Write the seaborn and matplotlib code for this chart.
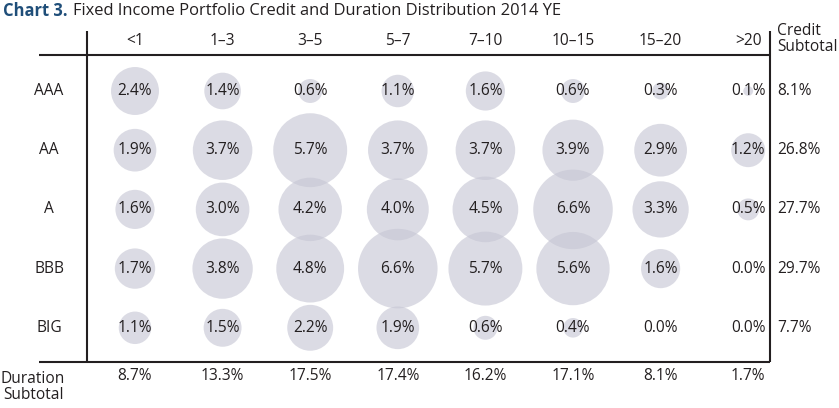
import pandas as pd
import matplotlib.pyplot as plt
import seaborn as sns

# data
ratings = ['AAA', 'AA', 'A', 'BBB', 'BIG']
durations = ['<1', '1–3', '3–5', '5–7', '7–10', '10–15', '15–20', '>20']

aaa = [2.4, 1.4, 0.6, 1.1, 1.6, 0.6, 0.3, 0.1]
aa = [1.9, 3.7, 5.7, 3.7, 3.7, 3.9, 2.9, 1.2]
a = [1.6, 3.0, 4.2, 4.0, 4.5, 6.6, 3.3, 0.5]
bbb = [1.7, 3.8, 4.8, 6.6, 5.7, 5.6, 1.6, 0.0]
big = [1.1, 1.5, 2.2, 1.9, 0.6, 0.4, 0.0, 0.0]

credit_subtotal = [8.1, 26.8, 27.7, 29.7, 7.7]
duration_subtotal = [8.7, 13.3, 17.5, 17.4, 16.2, 17.1, 8.1, 1.7]

# long table for seaborn
records = []
for j, (r, vals) in enumerate(zip(ratings, [aaa, aa, a, bbb, big])):
    for i, (d, v) in enumerate(zip(durations, vals)):
        records.append({'rating': r, 'duration': d, 'col': i, 'row': j, 'value': v})
df = pd.DataFrame(records)

sns.set_style('white')
plt.rcParams['font.family'] = ['Open Sans', 'DejaVu Sans']

W, H = 839, 408
X0, DX = 135, 87.6   # pixel centre of first column, column pitch
Y0, DY = 91, 59.2    # pixel centre of first row, row pitch


def px2x(px):
    return (px - X0) / DX


def py2y(py):
    return (py - Y0) / DY


fig = plt.figure(figsize=(W / 100, H / 100), dpi=100)
ax = fig.add_axes([0, 0, 1, 1])
ax.set_xlim(px2x(0), px2x(W))
ax.set_ylim(py2y(H), py2y(0))
ax.axis('off')

txt = '#231f20'
fs = 11.2

# bubbles: area proportional to value
vmax = df['value'].max()
sns.scatterplot(data=df[df['value'] > 0], x='col', y='row', size='value',
                sizes=(0, 497 * vmax), size_norm=(0, vmax),
                color='#c6c6d4', alpha=0.62, linewidth=0, legend=False, ax=ax)

for _, rw in df.iterrows():
    ax.text(rw['col'], rw['row'], f"{rw['value']:.1f}%", ha='center', va='center',
            fontsize=fs, color=txt)

# frame lines
lc = dict(color=txt, lw=1.5, solid_capstyle='butt')
ax.plot([px2x(39), px2x(770)], [py2y(55), py2y(55)], **lc)
ax.plot([px2x(39), px2x(770)], [py2y(362), py2y(362)], **lc)
ax.plot([px2x(87), px2x(87)], [py2y(31), py2y(362)], **lc)
ax.plot([px2x(770), px2x(770)], [py2y(31), py2y(362)], **lc)

# headers
for i, d in enumerate(durations):
    ax.text(i, py2y(41), d, ha='center', va='center', fontsize=fs, color=txt)
    ax.text(i, py2y(376), f'{duration_subtotal[i]:.1f}%', ha='center', va='center',
            fontsize=fs, color=txt)
for j, r in enumerate(ratings):
    ax.text(px2x(49), j, r, ha='center', va='center', fontsize=fs, color=txt)
    ax.text(px2x(777), j, f'{credit_subtotal[j]:.1f}%', ha='left', va='center',
            fontsize=fs, color=txt)

ax.text(px2x(777), py2y(39), 'Credit\nSubtotal', ha='left', va='center',
        fontsize=fs, color=txt, linespacing=0.95)
ax.text(px2x(33), py2y(387), 'Duration\nSubtotal', ha='center', va='center',
        fontsize=fs, color=txt, linespacing=0.95, multialignment='center')

# title in two parts
tfs = 11.9
t1 = fig.text(3 / W, 1 - 11 / H, 'Chart 3.', ha='left', va='center',
              fontsize=tfs, fontweight='bold', color='#1f4e79')
fig.canvas.draw()
bb = t1.get_window_extent()
fig.text((bb.x1 + 5) / W, 1 - 11 / H,
         'Fixed Income Portfolio Credit and Duration Distribution 2014 YE',
         ha='left', va='center', fontsize=tfs, color=txt)

fig.savefig('out.png', dpi=100)
